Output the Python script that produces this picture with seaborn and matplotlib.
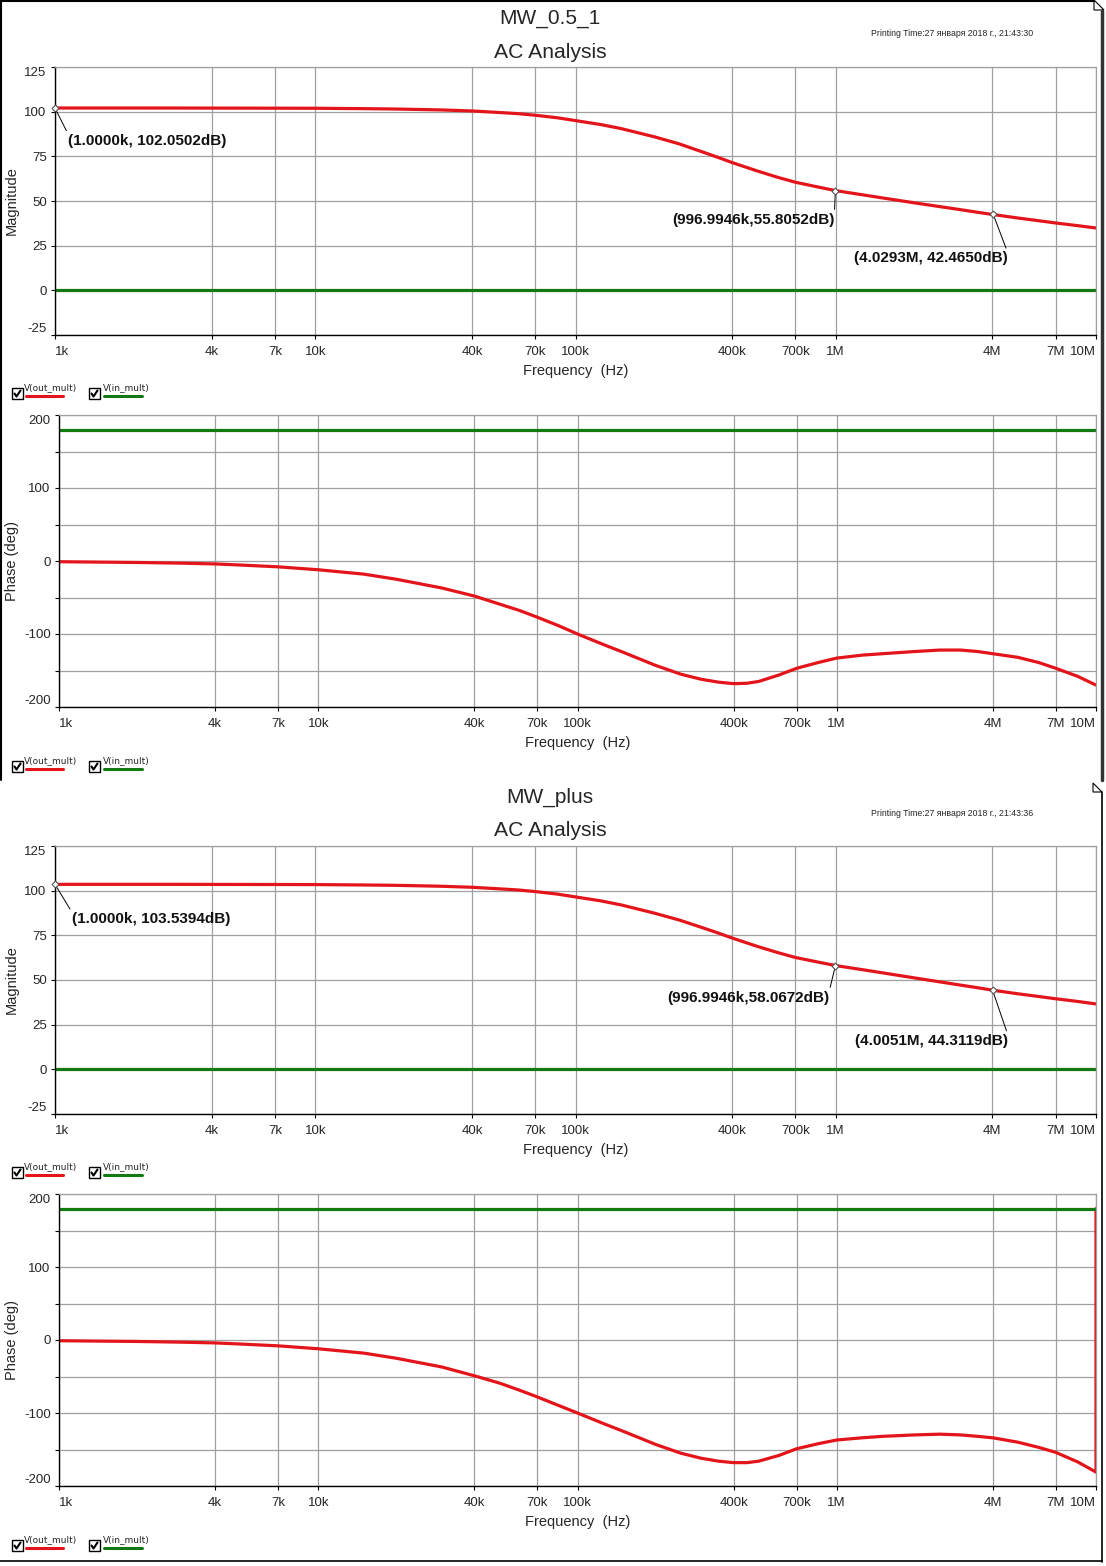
import matplotlib
matplotlib.use("Agg")
import matplotlib.pyplot as plt
from matplotlib.patches import Rectangle, Polygon
from matplotlib.ticker import NullLocator
import pandas as pd
import seaborn as sns

sns.set_style("white")
plt.rcParams["font.family"] = ["Liberation Sans", "DejaVu Sans"]
plt.rcParams["axes.unicode_minus"] = False

W, H = 1106, 1566
RED = "#e3151b"
GREEN = "#137a13"
GRID = "#a0a0a0"

# frequency points (Hz)
freq = [1e3, 2e3, 3e3, 4e3, 5e3, 7e3, 1e4, 1.5e4, 2e4, 3e4, 4e4, 5e4, 6e4,
        7e4, 8.5e4, 1e5, 1.25e5, 1.5e5, 2e5, 2.5e5, 3e5, 3.5e5, 4e5, 4.5e5,
        5e5, 6e5, 7e5, 8.5e5, 1e6, 1.25e6, 1.5e6, 2e6, 2.5e6, 3e6, 3.5e6, 4e6,
        5e6, 6e6, 7e6, 8.5e6, 1e7]

# MW_0.5_1
mag_05 = [102.05, 102.05, 102.03, 102.0, 101.98, 101.95, 101.9, 101.7, 101.5,
          101.0, 100.4, 99.6, 98.9, 98.0, 96.6, 95.0, 92.8, 90.5, 86.0, 82.0,
          78.0, 74.6, 71.5, 69.0, 66.8, 63.2, 60.5, 57.9, 55.8, 53.6, 51.8,
          49.0, 46.9, 45.2, 43.7, 42.47, 40.5, 39.0, 37.7, 36.2, 34.9]
phase_05 = [-1, -2, -3, -4, -5.5, -8, -12, -18, -25, -37, -48, -59, -68, -77,
            -89, -100, -114, -125, -143, -155, -162, -166, -168, -167.5, -165,
            -156, -147, -139, -133, -129, -127, -124, -122, -122, -124, -127,
            -132, -139, -147, -158, -170]

# MW_plus
mag_plus = [103.54, 103.54, 103.53, 103.5, 103.48, 103.45, 103.4, 103.2,
            103.0, 102.5, 101.9, 101.1, 100.4, 99.5, 98.1, 96.5, 94.3, 92.0,
            87.5, 83.6, 79.8, 76.5, 73.5, 71.0, 68.8, 65.3, 62.6, 60.1, 58.07,
            55.9, 54.1, 51.2, 49.0, 47.2, 45.7, 44.31, 42.3, 40.8, 39.5, 38.0,
            36.6]
phase_plus = [-1, -2, -3, -4, -5.5, -8, -12, -18, -25, -37, -49, -59, -69,
              -78, -90, -100, -114, -125, -143, -155, -162, -166, -168, -168,
              -166, -158, -149, -142, -137, -134, -132, -130, -129, -130, -132,
              -134, -140, -147, -154, -167, -181]
phase_plus_wrap = 180  # phase wraps to +180 at the last point

# V(in_mult) reference trace
in_freq = [1e3, 1e7]
in_mag = [0, 0]
in_phase = [180, 180]

xticks = [1e3, 4e3, 7e3, 1e4, 4e4, 7e4, 1e5, 4e5, 7e5, 1e6, 4e6, 7e6, 1e7]
xtick_labels = ["1k", "4k", "7k", "10k", "40k", "70k", "100k", "400k", "700k",
                "1M", "4M", "7M", "10M"]

cursors_05 = [(1e3, 102.0502, "(1.0000k, 102.0502dB)"),
              (996.9946e3, 55.8052, "(996.9946k,55.8052dB)"),
              (4.0293e6, 42.4650, "(4.0293M, 42.4650dB)")]
cursors_plus = [(1e3, 103.5394, "(1.0000k, 103.5394dB)"),
                (996.9946e3, 58.0672, "(996.9946k,58.0672dB)"),
                (4.0051e6, 44.3119, "(4.0051M, 44.3119dB)")]

palette = {"V(out_mult)": RED, "V(in_mult)": GREEN}

fig = plt.figure(figsize=(W / 100, H / 100), dpi=100)
bg = fig.add_axes([0, 0, 1, 1])
bg.set_xlim(0, W)
bg.set_ylim(H, 0)
bg.axis("off")


def px_axes(l, t, r, b):
    return fig.add_axes([l / W, 1 - b / H, (r - l) / W, (b - t) / H])


def style_axes(ax, ylabel, label_x, xlab_y):
    ax.set_xscale("log")
    ax.set_xlim(1e3, 1e7)
    ax.set_xticks(xticks, xtick_labels)
    ax.xaxis.set_minor_locator(NullLocator())
    ax.grid(True, which="both", color=GRID, linewidth=0.9)
    ax.set_axisbelow(True)
    for s in ["left", "bottom"]:
        ax.spines[s].set_color("black")
        ax.spines[s].set_linewidth(1.0)
    for s in ["top", "right"]:
        ax.spines[s].set_color(GRID)
        ax.spines[s].set_linewidth(0.9)
    ax.tick_params(which="both", direction="out", length=3, width=0.8,
                   color="black", labelsize=9.5, pad=3, left=True, bottom=True)
    ax.tick_params(axis="x", pad=5)
    labs = ax.get_xticklabels()
    labs[0].set_ha("left")
    labs[-1].set_ha("right")
    ylabs = ax.get_yticklabels()
    ylabs[0].set_va("bottom")
    ylabs[-1].set_va("top")
    ax.set_xlabel("Frequency  (Hz)", fontsize=10.5)
    ax.xaxis.set_label_coords(0.5, xlab_y)
    ax.set_ylabel(ylabel, fontsize=10.5)
    ax.yaxis.set_label_coords(label_x, 0.5)


def legend_row(y):
    for bx, tx, lx0, lx1, name, col in [(12, 24, 26, 63, "V(out_mult)", RED),
                                        (89, 103, 104, 142, "V(in_mult)", GREEN)]:
        bg.add_patch(Rectangle((bx, y), 11, 11, fill=False, ec="black", lw=1.0))
        bg.plot([bx + 2.5, bx + 4.5, bx + 8.5], [y + 5.5, y + 8.5, y + 2.5],
                color="black", lw=1.5)
        bg.text(tx, y, name, fontsize=6.5, va="center", ha="left",
                family="DejaVu Sans")
        bg.plot([lx0, lx1], [y + 8, y + 8], color=col, lw=2.2,
                solid_capstyle="round")


def draw_page(top, name, stamp, mag, phase, cursors, offsets, wrap=None):
    bg.text(550, top + 18, name, fontsize=15, ha="center", va="center")
    bg.text(871, top + 34, stamp, fontsize=6.3, ha="left", va="center")
    bg.text(550, top + 52, "AC Analysis", fontsize=15.2, ha="center",
            va="center")

    # magnitude
    ax = px_axes(55, top + 67, 1096, top + 335)
    dm = pd.concat([
        pd.DataFrame({"freq": freq, "value": mag, "trace": "V(out_mult)"}),
        pd.DataFrame({"freq": in_freq, "value": in_mag, "trace": "V(in_mult)"}),
    ])
    sns.lineplot(data=dm, x="freq", y="value", hue="trace", palette=palette,
                 estimator=None, sort=False, legend=False, linewidth=2.3, ax=ax)
    ax.set_ylim(-25, 125)
    ax.set_yticks([-25, 0, 25, 50, 75, 100, 125])
    style_axes(ax, "Magnitude", -0.0346, -0.108)
    for (fx, fy, txt), (dx, dy, ha, rel) in zip(cursors, offsets):
        ax.plot([fx], [fy], marker="D", ms=3.5, mfc="white", mec="#555555",
                mew=0.8, zorder=6, clip_on=False)
        ax.annotate(txt, xy=(fx, fy), xytext=(dx, dy), textcoords="offset pixels",
                    ha=ha, va="center", fontsize=11, fontweight="bold",
                    color="#111111",
                    arrowprops=dict(arrowstyle="-", color="black", lw=0.7,
                                    shrinkA=0, shrinkB=0, relpos=rel))
    legend_row(top + 388)

    # phase
    ax2 = px_axes(59, top + 415, 1096, top + 707)
    pf = list(freq)
    pv = list(phase)
    if wrap is not None:
        pf = pf + [freq[-1]]
        pv = pv + [wrap]
    dp = pd.concat([
        pd.DataFrame({"freq": pf, "value": pv, "trace": "V(out_mult)"}),
        pd.DataFrame({"freq": in_freq, "value": in_phase, "trace": "V(in_mult)"}),
    ])
    sns.lineplot(data=dp, x="freq", y="value", hue="trace", palette=palette,
                 estimator=None, sort=False, legend=False, linewidth=2.3, ax=ax2)
    ax2.set_ylim(-200, 200)
    ax2.set_yticks([-200, -100, 0, 100, 200])
    ax2.set_yticks([-150, -50, 50, 150], minor=True)
    style_axes(ax2, "Phase (deg)", -0.0386, -0.099)
    legend_row(top + 761)


draw_page(0, "MW_0.5_1", "Printing Time:27 января 2018 г., 21:43:30",
          mag_05, phase_05, cursors_05,
          [(13, -33, "left", (0, 1)), (-1, -29, "right", (1, 1)),
           (14, -44, "right", (1, 1))])
draw_page(779, "MW_plus", "Printing Time:27 января 2018 г., 21:43:36",
          mag_plus, phase_plus, cursors_plus,
          [(17, -35, "left", (0, 1)), (-6, -32, "right", (1, 1)),
           (15, -51, "right", (1, 1))],
          wrap=phase_plus_wrap)

# page frames
bg.plot([1, 1], [0, 780], color="black", lw=1.5)
bg.plot([0, 1094], [1, 1], color="black", lw=1.5)
bg.plot([1101.5, 1101.5], [11, 780], color="#333333", lw=2.5)
bg.add_patch(Polygon([(1094, 0), (1104, 10), (1094, 10)], closed=True,
                     fc="white", ec="black", lw=0.8))
bg.plot([1102, 1102], [792, 1562], color="black", lw=1.2)
bg.plot([0, 1102], [1561, 1561], color="black", lw=1.2)
bg.add_patch(Polygon([(1093, 783), (1102, 792), (1093, 792)], closed=True,
                     fc="white", ec="black", lw=0.8))

fig.savefig("out.png", dpi=100)
